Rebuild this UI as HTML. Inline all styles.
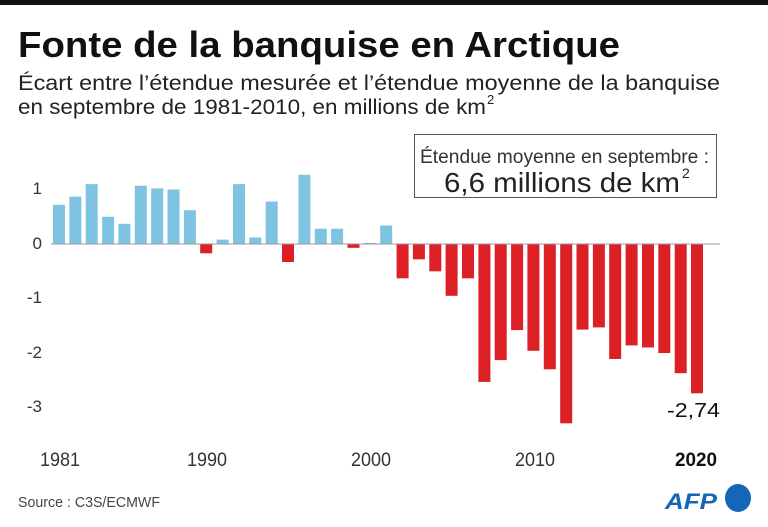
<!DOCTYPE html>
<html><head><meta charset="utf-8"><style>
html,body{margin:0;padding:0;background:#fff;}
svg{display:block;font-family:"Liberation Sans",sans-serif;}
</style></head><body>
<svg width="768" height="527" viewBox="0 0 768 527" xmlns="http://www.w3.org/2000/svg">
<rect x="0" y="0" width="768" height="5" fill="#111"/>
<text x="18" y="57" font-size="36" font-weight="bold" fill="#111" textLength="602" lengthAdjust="spacingAndGlyphs">Fonte de la banquise en Arctique</text>
<text x="18" y="90" font-size="21" fill="#222" textLength="702" lengthAdjust="spacingAndGlyphs">Écart entre l’étendue mesurée et l’étendue moyenne de la banquise</text>
<text x="18" y="114" font-size="21" fill="#222" textLength="468" lengthAdjust="spacingAndGlyphs">en septembre de 1981-2010, en millions de km</text>
<text x="487" y="104" font-size="13" fill="#222">2</text>
<rect x="414.5" y="134.5" width="302" height="63" fill="#fff" stroke="#555" stroke-width="1"/>
<text x="420" y="163" font-size="19" fill="#333" textLength="289" lengthAdjust="spacingAndGlyphs">Étendue moyenne en septembre :</text>
<text x="444" y="192" font-size="28" fill="#222" textLength="236" lengthAdjust="spacingAndGlyphs">6,6 millions de km</text>
<text x="682" y="178" font-size="14" fill="#222">2</text>
<g font-size="17" fill="#333" text-anchor="end">
<text x="42" y="194">1</text><text x="42" y="249">0</text><text x="42" y="303">-1</text><text x="42" y="358">-2</text><text x="42" y="412">-3</text>
</g>
<g id="bars"></g>
<line x1="51" y1="244" x2="720" y2="244" stroke="#999" stroke-width="1"/>
<text x="720" y="417" font-size="20" fill="#111" text-anchor="end" textLength="53" lengthAdjust="spacingAndGlyphs">-2,74</text>
<g font-size="19" fill="#333" text-anchor="middle">
<text x="60" y="466" textLength="40" lengthAdjust="spacingAndGlyphs">1981</text>
<text x="207" y="466" textLength="40" lengthAdjust="spacingAndGlyphs">1990</text>
<text x="371" y="466" textLength="40" lengthAdjust="spacingAndGlyphs">2000</text>
<text x="535" y="466" textLength="40" lengthAdjust="spacingAndGlyphs">2010</text>
<text x="696" y="466" textLength="42" lengthAdjust="spacingAndGlyphs" fill="#111" font-weight="bold">2020</text>
</g>
<text x="18" y="507" font-size="15" fill="#444" textLength="142" lengthAdjust="spacingAndGlyphs">Source : C3S/ECMWF</text>
<text x="665" y="509" font-size="22" font-weight="bold" font-style="italic" fill="#1565b8" textLength="52" lengthAdjust="spacingAndGlyphs">AFP</text>
<ellipse cx="738" cy="498" rx="13" ry="14" fill="#1565b8"/>
<g>
<!-- bars -->
</g>
</svg>
<script>
var v=[0.72,0.87,1.1,0.5,0.37,1.07,1.02,1.0,0.62,-0.17,0.08,1.1,0.12,0.78,-0.33,1.27,0.28,0.28,-0.07,0.02,0.34,-0.63,-0.28,-0.5,-0.95,-0.63,-2.53,-2.13,-1.58,-1.96,-2.3,-3.29,-1.57,-1.53,-2.11,-1.86,-1.9,-2.0,-2.37,-2.74];
var g=document.getElementById('bars'),s='';
for(var i=0;i<v.length;i++){var x=53+i*16.36,h=Math.abs(v[i])*54.5,y=v[i]>=0?244-h:244;
s+='<rect x="'+x.toFixed(1)+'" y="'+y.toFixed(1)+'" width="12" height="'+h.toFixed(1)+'" fill="'+(v[i]>=0?'#7ec4e2':'#dd1f26')+'"/>';}
g.innerHTML=s;
</script>
</body></html>
